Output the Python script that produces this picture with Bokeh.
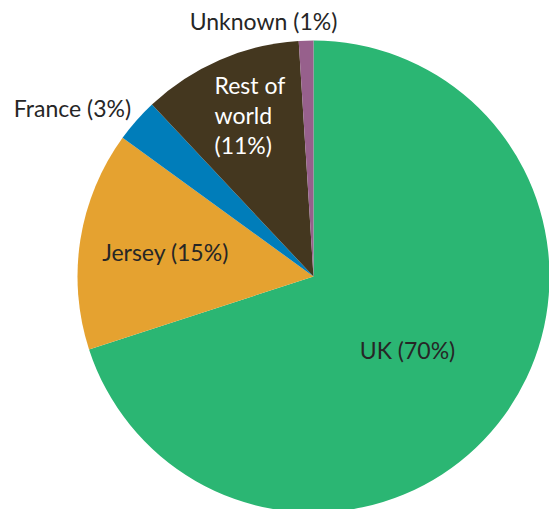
import math
from bokeh.plotting import figure
from bokeh.models import Range1d, ColumnDataSource
from bokeh.core.properties import value
from bokeh.embed import file_html
from bokeh.resources import INLINE

# ---- data ----
categories = ["UK", "Jersey", "France", "Rest of world", "Unknown"]
shares = [70, 15, 3, 11, 1]
colors = ["#2BB673", "#E5A230", "#007DBA", "#44371F", "#97608C"]
label_texts = ["UK (70%)", "Jersey (15%)", "France (3%)", "Rest of\nworld\n(11%)", "Unknown (1%)"]

# ---- layout (pixel-like data units) ----
W, H = 549, 509
def X(px):
    return px
def Y(py):
    return H - py

cx, cy, R = X(313), Y(276), 236

total = float(sum(shares))
starts, ends = [], []
cum = 0.0
for s in shares:
    a_hi = math.pi / 2 - 2 * math.pi * cum / total
    cum += s
    a_lo = math.pi / 2 - 2 * math.pi * cum / total
    starts.append(a_lo)
    ends.append(a_hi)

p = figure(width=W, height=H, output_backend="svg", toolbar_location=None,
           x_range=Range1d(0, W), y_range=Range1d(0, H),
           x_axis_location=None, y_axis_location=None, min_border=0)
p.outline_line_color = None
p.grid.visible = False
p.background_fill_color = "white"
p.border_fill_color = "white"

src = ColumnDataSource(dict(start=starts, end=ends, color=colors, cat=categories))
p.wedge(x=cx, y=cy, radius=R, start_angle="start", end_angle="end",
        fill_color="color", line_color=None, direction="anticlock", source=src)

font = value("Lato")
fs = "23px"
dark = "#262626"

# single-line labels: UK, Jersey, France, Unknown
single = [(0, 407, 349), (1, 165, 251), (2, 72, 107), (4, 263, 20)]
p.text(x=[X(px) for _, px, _ in single], y=[Y(py) for _, _, py in single],
       text=[label_texts[i] for i, _, _ in single],
       text_font=font, text_font_size=fs, text_color=dark,
       text_align="center", text_baseline="middle")

# Rest of world multi-line label (white, left aligned)
lines = label_texts[3].split("\n")
line_y = [84, 114, 144]
p.text(x=[X(214)] * len(lines), y=[Y(v) for v in line_y], text=lines,
       text_font=font, text_font_size=fs, text_color="white",
       text_align="left", text_baseline="middle")

open("out.html", "w").write(file_html(p, INLINE))
